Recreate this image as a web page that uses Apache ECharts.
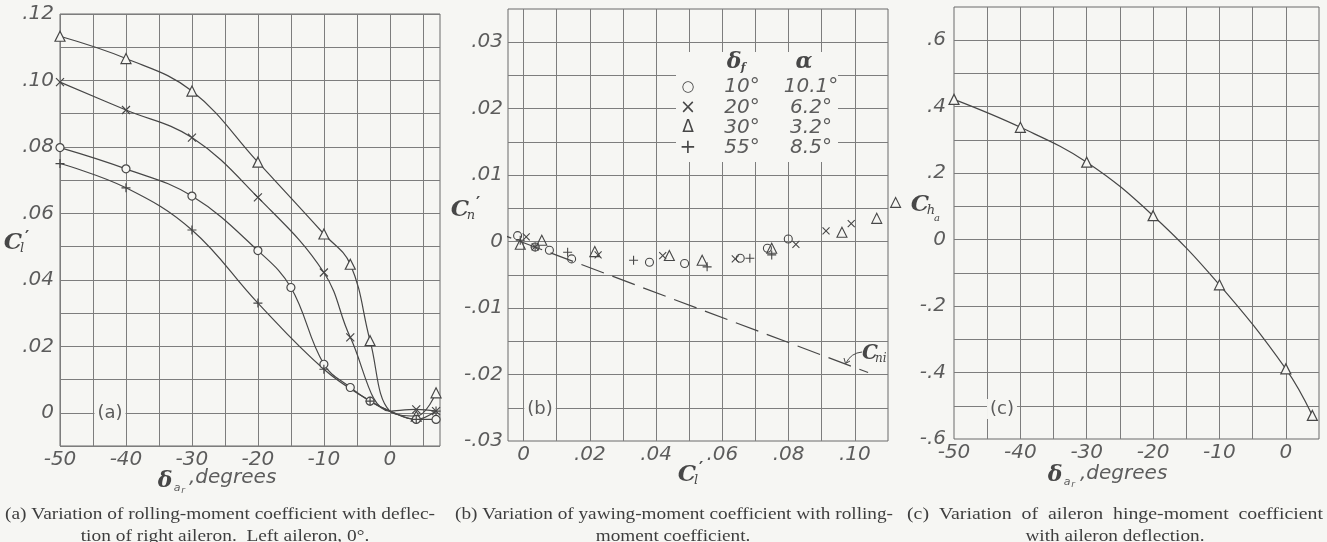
<!DOCTYPE html>
<html><head><meta charset="utf-8">
<script src="https://cdn.jsdelivr.net/npm/echarts@6/dist/echarts.min.js"></script>
<style>html,body{margin:0;padding:0;background:#f6f6f3}#c{width:1327px;height:542px}</style>
</head><body><div id="c"></div>
<script>
// ---------- Panel (a): rolling-moment coefficient vs right-aileron deflection ----------
const A_TRI_X   = [-50, -40, -30, -20, -10, -6, -3, 0, 4, 7];
const A_TRI_Y   = [0.1133, 0.1066, 0.0968, 0.0754, 0.0538, 0.0447, 0.0217, 0.0005, -0.001, 0.006];
const A_CROSS_X = [-50, -40, -30, -20, -10, -6, 0, 4, 7];
const A_CROSS_Y = [0.0995, 0.0911, 0.0828, 0.0648, 0.0422, 0.0227, 0.0005, 0.001, 0.0005];
const A_CIRC_X  = [-50, -40, -30, -20, -15, -10, -6, -3, 0, 4, 7];
const A_CIRC_Y  = [0.0798, 0.0734, 0.0652, 0.0488, 0.0377, 0.0146, 0.0076, 0.0035, 0.0005, -0.002, -0.002];
const A_PLUS_X  = [-50, -40, -30, -20, -10, -3, 0, 4, 7];
const A_PLUS_Y  = [0.075, 0.0677, 0.055, 0.033, 0.0131, 0.0035, 0.0005, -0.002, 0.0005];
const A_UNMARKED_X = [0];   // curve passes through these points, no marker drawn
const A_X_GRID   = [-50, -45, -40, -35, -30, -25, -20, -15, -10, -5, 0, 5];
const A_X_LABELS = [-50, -40, -30, -20, -10, 0];
const A_Y_GRID   = [-0.01, 0, 0.01, 0.02, 0.03, 0.04, 0.05, 0.06, 0.07, 0.08, 0.09, 0.10, 0.11, 0.12];
const A_Y_LABELS = [0, 0.02, 0.04, 0.06, 0.08, 0.10, 0.12];

// ---------- Panel (b): yawing-moment vs rolling-moment coefficient ----------
const B_CIRC_X  = [-0.0018, 0.0035, 0.0078, 0.0145, 0.038, 0.0486, 0.0654, 0.0736, 0.0799];
const B_CIRC_Y  = [0.0009, -0.0008, -0.0013, -0.0026, -0.0031, -0.0033, -0.0025, -0.001, 0.0004];
const B_CROSS_X = [0.0008, 0.0035, 0.0225, 0.042, 0.0639, 0.0822, 0.0913, 0.0989];
const B_CROSS_Y = [0.0007, -0.0008, -0.002, -0.0021, -0.0026, -0.0004, 0.0016, 0.0027];
const B_TRI_X   = [-0.001, 0.0055, 0.0215, 0.044, 0.0539, 0.0749, 0.0961, 0.1066, 0.1123];
const B_TRI_Y   = [-0.0004, 0.0002, -0.0015, -0.0021, -0.0028, -0.001, 0.0014, 0.0035, 0.0059];
const B_PLUS_X  = [-0.001, 0.0035, 0.0133, 0.0332, 0.0554, 0.0683, 0.0749];
const B_PLUS_Y  = [0.0002, -0.0008, -0.0016, -0.0028, -0.0038, -0.0025, -0.002];
const B_CNI_X   = [-0.0105, 0.104];
const B_CNI_Y   = [0.0018, -0.0197];
const B_X_GRID   = [0, 0.01, 0.02, 0.03, 0.04, 0.05, 0.06, 0.07, 0.08, 0.09, 0.10];
const B_X_LABELS = [0, 0.02, 0.04, 0.06, 0.08, 0.10];
const B_Y_GRID   = [-0.025, -0.02, -0.015, -0.01, -0.005, 0, 0.005, 0.01, 0.015, 0.02, 0.025, 0.03];
const B_Y_LABELS = [-0.03, -0.02, -0.01, 0, 0.01, 0.02, 0.03];
const LEGEND_DF  = ['10°', '20°', '30°', '55°'];
const LEGEND_AL  = ['10.1°', '6.2°', '3.2°', '8.5°'];
const LEGEND_SYM = ['○', '×', 'Δ', '+'];

// ---------- Panel (c): aileron hinge-moment coefficient ----------
const C_X = [-50, -40, -30, -20, -10, 0, 4];
const C_Y = [0.422, 0.338, 0.233, 0.072, -0.136, -0.389, -0.529];
const C_X_GRID   = [-45, -40, -35, -30, -25, -20, -15, -10, -5, 0];
const C_X_LABELS = [-50, -40, -30, -20, -10, 0];
const C_Y_GRID   = [-0.5, -0.4, -0.3, -0.2, -0.1, 0, 0.1, 0.2, 0.3, 0.4, 0.5, 0.6];
const C_Y_LABELS = [-0.6, -0.4, -0.2, 0, 0.2, 0.4, 0.6];

// caption lines
const CAP_A = ['(a) Variation of rolling-moment coefficient with deflec-', 'tion of right aileron.  Left aileron, 0°.'];
const CAP_B = ['(b) Variation of yawing-moment coefficient with rolling-', 'moment coefficient.'];
const CAP_C = ['(c)  Variation  of  aileron  hinge-moment  coefficient', 'with aileron deflection.'];

// ---------- styling ----------
const BG = '#f6f6f3', GRIDC = '#7d7d7d', INK = '#474747', LABC = '#5c5c5c';
const LBL = {fontFamily: 'DejaVu Sans', fontStyle: 'italic', fontWeight: 300, fontSize: 20, color: LABC};
const SYM = {
  circle: 'circle', tri: 'triangle',
  cross: 'path://M0,0L10,10M10,0L0,10',
  plus: 'path://M5,0L5,10M0,5L10,5'
};
function dec(d) {
  return v => {
    if (Math.abs(v) < 1e-12) return '0';
    return v.toFixed(d).replace(/^(-?)0\./, '$1.');
  };
}
function xAx(gi, min, max, grid, labels, fmt, margin) {
  return {type: 'value', gridIndex: gi, min, max,
    axisLine: {show: false}, axisTick: {show: false, customValues: grid},
    splitLine: {show: true, lineStyle: {color: GRIDC, width: 1}},
    axisLabel: Object.assign({}, LBL, {customValues: labels, formatter: fmt, margin})};
}
function lineSeries(gi, xs, ys, sym, size, unmarked, smooth) {
  return {type: 'line', xAxisIndex: gi, yAxisIndex: gi, smooth: smooth, symbol: sym, symbolSize: size,
    showAllSymbol: true, animation: false, z: 3,
    data: xs.map((x, i) => unmarked.includes(x) ? {value: [x, ys[i]], symbol: 'none'} : [x, ys[i]]),
    lineStyle: {color: INK, width: 1.2},
    itemStyle: {color: BG, borderColor: INK, borderWidth: 1.2}};
}
function scatterSeries(gi, xs, ys, sym, size) {
  return {type: 'scatter', xAxisIndex: gi, yAxisIndex: gi, symbol: sym, symbolSize: size, clip: false,
    animation: false, z: 4, data: xs.map((x, i) => [x, ys[i]]),
    itemStyle: {color: 'rgba(0,0,0,0)', borderColor: INK, borderWidth: 1.1, opacity: 1}};
}

// ---------- graphic text helpers ----------
const G = [];
function T(x, y, text, font, o) {
  o = o || {};
  G.push({type: 'text', x, y, z: 60, silent: true,
    style: Object.assign({text, font, fill: o.fill || LABC, align: o.align || 'center', verticalAlign: 'middle'},
      o.bg ? {backgroundColor: BG, padding: [1, 3]} : {})});
}
const SERIF_C = 'italic bold 23px "DejaVu Serif"';
const SUB = 'italic 13px "DejaVu Serif"';
const PRIME = 'bold 16px "DejaVu Sans"';
// panel (a) axis titles
T(165, 481, 'δ', 'italic bold 22px "DejaVu Serif"', {fill: INK});
T(177, 488, 'a', 'italic 11px "DejaVu Sans"');
T(183, 491, 'r', 'italic 9px "DejaVu Sans"');
T(189, 478, ',degrees', 'italic 300 20px "DejaVu Sans"', {align: 'left'});
T(13, 243, 'C', SERIF_C, {fill: INK});
T(22, 249, 'l', SUB, {fill: INK});
T(27, 238, '′', PRIME, {fill: INK});
T(110, 413, '(a)', '18px "DejaVu Sans"', {bg: true});
// panel (b)
T(460, 210, 'C', SERIF_C, {fill: INK});
T(471, 216, 'n', SUB, {fill: INK});
T(478, 204, '′', PRIME, {fill: INK});
T(687, 475, 'C', SERIF_C, {fill: INK});
T(696, 481, 'l', SUB, {fill: INK});
T(701, 469, '′', PRIME, {fill: INK});
T(540, 409, '(b)', '18px "DejaVu Sans"', {bg: true});
// legend box
G.push({type: 'rect', z: 55, silent: true, shape: {x: 676, y: 52, width: 162, height: 110}, style: {fill: BG}});
T(734, 62, 'δ', 'italic bold 22px "DejaVu Serif"', {fill: INK});
T(743, 68, 'f', 'italic bold 11px "DejaVu Serif"', {fill: INK});
T(804, 62, 'α', 'italic bold 22px "DejaVu Serif"', {fill: INK});
const ROW_Y = [87, 108, 128, 148];
LEGEND_SYM.forEach((s, i) => {
  T(688, ROW_Y[i], s, (s === '+' ? '20px' : s === '×' ? '19px' : s === 'Δ' ? '17px' : '15px') + ' "DejaVu Sans"', {fill: INK});
  T(742, ROW_Y[i], LEGEND_DF[i], 'italic 300 20px "DejaVu Sans"');
  T(811, ROW_Y[i], LEGEND_AL[i], 'italic 300 20px "DejaVu Sans"');
});
// C_ni annotation
T(862, 354, 'C', 'italic bold 20px "DejaVu Serif"', {fill: INK, align: 'left'});
T(875, 359, 'ni', 'italic 12px "DejaVu Serif"', {fill: INK, align: 'left'});
G.push({type: 'bezierCurve', z: 60, silent: true,
  shape: {x1: 862, y1: 352, cpx1: 851, cpy1: 353, x2: 846, y2: 363},
  style: {stroke: INK, lineWidth: 1, fill: null}});
G.push({type: 'polyline', z: 60, silent: true,
  shape: {points: [[844, 358], [845.5, 363.5], [850, 361]]}, style: {stroke: INK, lineWidth: 1, fill: null}});
// panel (c)
T(920, 205, 'C', SERIF_C, {fill: INK});
T(931, 211, 'h', SUB, {fill: INK});
T(937, 218, 'a', 'italic 10px "DejaVu Serif"', {fill: INK});
T(1055, 475, 'δ', 'italic bold 22px "DejaVu Serif"', {fill: INK});
T(1067, 482, 'a', 'italic 11px "DejaVu Sans"');
T(1073, 485, 'r', 'italic 9px "DejaVu Sans"');
T(1080, 474, ',degrees', 'italic 300 20px "DejaVu Sans"', {align: 'left'});
T(1002, 409, '(c)', '18px "DejaVu Sans"', {bg: true});
// captions: first line fitted to its span, second line centred with the same glyph scale
const cv = document.createElement('canvas').getContext('2d');
const CAP_FONT = '17px "Liberation Serif"';
cv.font = CAP_FONT;
function capLine(t, x, y, s, align) {
  G.push({type: 'text', x, y, scaleX: s, z: 60, silent: true,
    style: {text: t, font: CAP_FONT, fill: '#3e3e3e', align, verticalAlign: 'middle'}});
}
const sA = (435 - 5) / cv.measureText(CAP_A[0]).width;
const sB = (893 - 455) / cv.measureText(CAP_B[0]).width;
const sC = (1323 - 907) / cv.measureText(CAP_C[0]).width;
capLine(CAP_A[0], 5, 515, sA, 'left');
capLine(CAP_A[1], 225, 537, sA, 'center');
capLine(CAP_B[0], 455, 515, sB, 'left');
capLine(CAP_B[1], 673, 537, sB, 'center');
capLine(CAP_C[0], 907, 515, sC, 'left');
capLine(CAP_C[1], 1115, 537, sB, 'center');

const chart = echarts.init(document.getElementById('c'), null, {renderer: 'canvas'});
chart.setOption({
  backgroundColor: BG,
  animation: false,
  grid: [
    {left: 60, top: 14, width: 380, height: 432, show: true, borderColor: '#6a6a6a', borderWidth: 1},
    {left: 508, top: 9, width: 380, height: 432, show: true, borderColor: '#6a6a6a', borderWidth: 1},
    {left: 954, top: 7, width: 365, height: 432, show: true, borderColor: '#6a6a6a', borderWidth: 1}
  ],
  xAxis: [
    xAx(0, -50, 7.6, A_X_GRID, A_X_LABELS, v => String(v), 4),
    xAx(1, -0.0047, 0.11, B_X_GRID, B_X_LABELS, dec(2), 4),
    xAx(2, -50, 5, C_X_GRID, C_X_LABELS, v => String(v), 4)
  ],
  yAxis: [
    xAx(0, -0.01, 0.12, A_Y_GRID, A_Y_LABELS, dec(2), 6),
    xAx(1, -0.03, 0.035, B_Y_GRID, B_Y_LABELS, dec(2), 5),
    xAx(2, -0.6, 0.7, C_Y_GRID, C_Y_LABELS, dec(1), 8)
  ],
  series: [
    lineSeries(0, A_TRI_X, A_TRI_Y, SYM.tri, 10, A_UNMARKED_X, 0.4),
    lineSeries(0, A_CROSS_X, A_CROSS_Y, SYM.cross, 8, A_UNMARKED_X, 0.4),
    lineSeries(0, A_CIRC_X, A_CIRC_Y, SYM.circle, 8, A_UNMARKED_X, 0.4),
    lineSeries(0, A_PLUS_X, A_PLUS_Y, SYM.plus, 9, A_UNMARKED_X, 0.4),
    scatterSeries(1, B_CIRC_X, B_CIRC_Y, SYM.circle, 8),
    scatterSeries(1, B_CROSS_X, B_CROSS_Y, SYM.cross, 7),
    scatterSeries(1, B_TRI_X, B_TRI_Y, SYM.tri, 10),
    scatterSeries(1, B_PLUS_X, B_PLUS_Y, SYM.plus, 9),
    {type: 'line', xAxisIndex: 1, yAxisIndex: 1, symbol: 'none', clip: false, animation: false, z: 3,
      data: B_CNI_X.map((x, i) => [x, B_CNI_Y[i]]),
      lineStyle: {color: INK, width: 1.2, type: [24, 9]}},
    lineSeries(2, C_X, C_Y, SYM.tri, 10, [], 0.4)
  ],
  graphic: G
});
</script></body></html>
